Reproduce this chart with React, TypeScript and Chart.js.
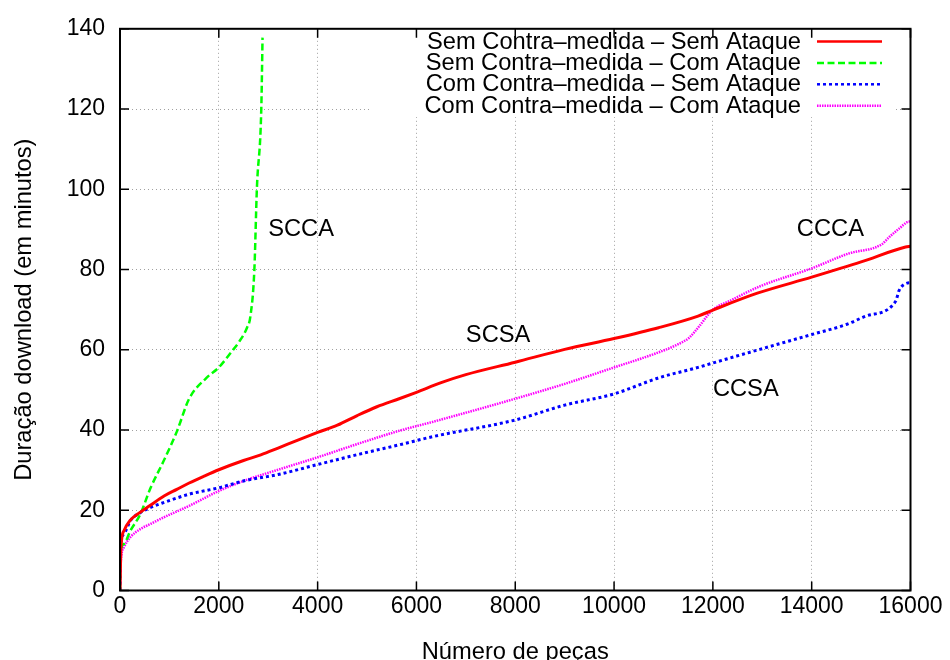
import React, { useEffect, useRef } from "react";
import { Chart, registerables } from "chart.js";

Chart.register(...registerables);

// ---------- data ----------
const seriesLabels = [
  "Sem Contra\u2013medida \u2013 Sem Ataque",
  "Sem Contra\u2013medida \u2013 Com Ataque",
  "Com Contra\u2013medida \u2013 Sem Ataque",
  "Com Contra\u2013medida \u2013 Com Ataque",
];

// Sem Contra-medida - Sem Ataque (SCSA)
const scsaX = [0, 20, 80, 200, 400, 600, 900, 1150, 1400, 1700, 2000, 2500, 2850, 3200, 3600, 4000, 4400, 4800, 5200, 5650, 6000, 6500, 7000, 8000, 9000, 10000, 10900, 11700, 12000, 12900, 14000, 15000, 15900, 16000];
const scsaY = [0, 10.8, 14.9, 17.4, 19.4, 21.1, 23.6, 25.2, 26.8, 28.5, 30.1, 32.4, 33.8, 35.5, 37.5, 39.4, 41.2, 43.6, 45.8, 47.8, 49.4, 51.8, 53.8, 56.9, 60.1, 62.8, 65.5, 68.4, 69.9, 74.1, 78.1, 81.9, 85.6, 85.8];

// Sem Contra-medida - Com Ataque (SCCA)
const sccaX = [0, 10, 80, 210, 410, 620, 880, 1150, 1400, 1750, 2000, 2270, 2400, 2570, 2640, 2720, 2770, 2860, 2885];
const sccaY = [0, 9.2, 11.6, 14.9, 19.0, 25.6, 32.2, 39.6, 47.8, 53.0, 55.6, 59.7, 61.8, 65.5, 68.4, 80.1, 100, 120.2, 137.8];

// Com Contra-medida - Sem Ataque (CCSA)
const ccsaX = [0, 10, 80, 210, 410, 620, 880, 1400, 2000, 2500, 3200, 4000, 4850, 5650, 6350, 8000, 9000, 10000, 10650, 10900, 11700, 12000, 12950, 14000, 14700, 15100, 15700, 15770, 15930, 16000];
const ccsaY = [0, 10, 14.1, 17.4, 19.4, 20.7, 21.9, 24.0, 25.6, 27.3, 28.9, 31.4, 34.0, 36.3, 38.4, 42.5, 46.2, 49.0, 51.9, 53.0, 55.6, 56.7, 60.1, 63.8, 66.3, 68.4, 72.1, 74.8, 76.6, 76.7];

// Com Contra-medida - Com Ataque (CCCA)
const cccaX = [0, 10, 80, 210, 410, 620, 880, 1400, 2000, 2500, 3200, 4000, 4850, 5650, 6350, 8000, 9000, 10000, 10800, 11300, 11520, 11700, 12000, 12330, 12950, 14000, 14750, 15420, 15570, 15770, 15930, 16000];
const cccaY = [0, 6, 10.8, 13.3, 15.3, 16.6, 18.2, 21.1, 24.8, 27.3, 30.1, 33.2, 36.7, 39.8, 42.1, 47.8, 51.5, 55.6, 58.9, 61.4, 63.0, 65.5, 70.0, 72.1, 75.8, 80.3, 84.0, 86.3, 88.1, 90.2, 91.8, 92.0];

const xTicks = [0, 2000, 4000, 6000, 8000, 10000, 12000, 14000, 16000];
const yTicks = [0, 20, 40, 60, 80, 100, 120, 140];

const curveNames = ["SCCA", "SCSA", "CCCA", "CCSA"];
const curveNameX = [3000, 7000, 13700, 12000];
const curveNameY = [90, 63.5, 90, 50.2];

const xTitle = "Número de peças";
const yTitle = "Duração download (em minutos)";

// ---------- styles ----------
const FONT = "'Liberation Sans', Arial, Helvetica, sans-serif";
const TEXT_SIZE = 23.7;
const TICK_SIZE = 23;
const colors = ["#ff0000", "#00ff00", "#0000ff", "#ff00ff"];
const dashes: number[][] = [[], [7, 3.5], [3, 3], [1.5, 1]];
const widths = [3, 2.5, 3, 2.5];

const toPts = (xs: number[], ys: number[]) => xs.map((x, i) => ({ x, y: ys[i] }));

const overlayPlugin = {
  id: "gnuplotOverlay",
  afterDatasetsDraw(chart: any) {
    const { ctx, chartArea: a, scales } = chart;
    const xs = scales.x;
    const ys = scales.y;
    ctx.save();

    // key box (opaque, like gnuplot's key)
    ctx.fillStyle = "#ffffff";
    ctx.fillRect(372, a.top + 1, 524, 117 - a.top - 1);

    ctx.font = `${TEXT_SIZE}px ${FONT}`;
    ctx.textBaseline = "middle";
    ctx.textAlign = "right";
    for (let i = 0; i < seriesLabels.length; i++) {
      const yy = 41.5 + i * 21.4;
      ctx.fillStyle = "#000";
      ctx.fillText(seriesLabels[i], 801, yy + 0.5);
      ctx.beginPath();
      ctx.setLineDash(dashes[i]);
      ctx.strokeStyle = colors[i];
      ctx.lineWidth = 2.5;
      ctx.moveTo(817, yy);
      ctx.lineTo(882, yy);
      ctx.stroke();
    }
    ctx.setLineDash([]);

    // border
    ctx.strokeStyle = "#000";
    ctx.lineWidth = 2;
    ctx.strokeRect(a.left, a.top, a.right - a.left, a.bottom - a.top);

    // inward ticks on all four sides
    ctx.lineWidth = 1.5;
    ctx.beginPath();
    xTicks.forEach((v) => {
      const px = xs.getPixelForValue(v);
      ctx.moveTo(px, a.bottom);
      ctx.lineTo(px, a.bottom - 9);
      ctx.moveTo(px, a.top);
      ctx.lineTo(px, a.top + 9);
    });
    yTicks.forEach((v) => {
      const py = ys.getPixelForValue(v);
      ctx.moveTo(a.left, py);
      ctx.lineTo(a.left + 9, py);
      ctx.moveTo(a.right, py);
      ctx.lineTo(a.right - 9, py);
    });
    ctx.stroke();

    // curve labels
    ctx.fillStyle = "#000";
    ctx.textAlign = "left";
    ctx.textBaseline = "middle";
    ctx.font = `${TEXT_SIZE}px ${FONT}`;
    for (let i = 0; i < curveNames.length; i++) {
      ctx.fillText(curveNames[i], xs.getPixelForValue(curveNameX[i]), ys.getPixelForValue(curveNameY[i]));
    }
    ctx.restore();
  },
};

export default function App() {
  const ref = useRef<HTMLCanvasElement | null>(null);

  useEffect(() => {
    if (!ref.current) return;
    const series = [toPts(scsaX, scsaY), toPts(sccaX, sccaY), toPts(ccsaX, ccsaY), toPts(cccaX, cccaY)];
    const chart = new Chart(ref.current, {
      type: "line",
      data: {
        datasets: series.map((d, i) => ({
          label: seriesLabels[i],
          data: d,
          borderColor: colors[i],
          backgroundColor: colors[i],
          borderWidth: widths[i],
          borderDash: dashes[i],
          borderCapStyle: "butt",
          pointRadius: 0,
          pointHoverRadius: 0,
          cubicInterpolationMode: "monotone",
          fill: false,
        })),
      },
      options: {
        animation: false,
        responsive: false,
        devicePixelRatio: 1,
        layout: { padding: { left: 0, top: 22.5, right: 39.5, bottom: 0 } },
        plugins: {
          legend: { display: false },
          tooltip: { enabled: false },
        },
        scales: {
          x: {
            type: "linear",
            min: 0,
            max: 16000,
            afterFit: (s: any) => {
              s.height = 69.5;
            },
            afterBuildTicks: (s: any) => {
              s.ticks = xTicks.map((v) => ({ value: v }));
            },
            ticks: {
              autoSkip: false,
              maxRotation: 0,
              padding: 2,
              color: "#000",
              callback: (v: any) => String(v),
              font: { family: FONT, size: TICK_SIZE, lineHeight: 1.2 },
            },
            grid: { color: "#a0a0a0", lineWidth: 1, drawTicks: false },
            border: { display: false, dash: [1, 3] },
            title: {
              display: true,
              text: xTitle,
              color: "#000",
              font: { family: FONT, size: TEXT_SIZE, lineHeight: 1 },
              padding: { top: 0, bottom: -4 },
            },
          },
          y: {
            type: "linear",
            min: 0,
            max: 140,
            afterFit: (s: any) => {
              s.width = 120;
            },
            afterBuildTicks: (s: any) => {
              s.ticks = yTicks.map((v) => ({ value: v }));
            },
            ticks: {
              autoSkip: false,
              padding: 15,
              color: "#000",
              callback: (v: any) => String(v),
              font: { family: FONT, size: TICK_SIZE, lineHeight: 1.2 },
            },
            grid: { color: "#a0a0a0", lineWidth: 1, drawTicks: false },
            border: { display: false, dash: [1, 3] },
            title: {
              display: true,
              text: yTitle,
              color: "#000",
              font: { family: FONT, size: TEXT_SIZE, lineHeight: 1.2 },
              padding: { top: 10, bottom: 0 },
            },
          },
        },
      },
      plugins: [overlayPlugin],
    } as any);
    return () => chart.destroy();
  }, []);

  return (
    <div style={{ position: "absolute", left: 0, top: 0, width: 950, height: 660, background: "#fff" }}>
      <canvas ref={ref} width={950} height={660} style={{ display: "block", width: 950, height: 660 }} />
    </div>
  );
}
